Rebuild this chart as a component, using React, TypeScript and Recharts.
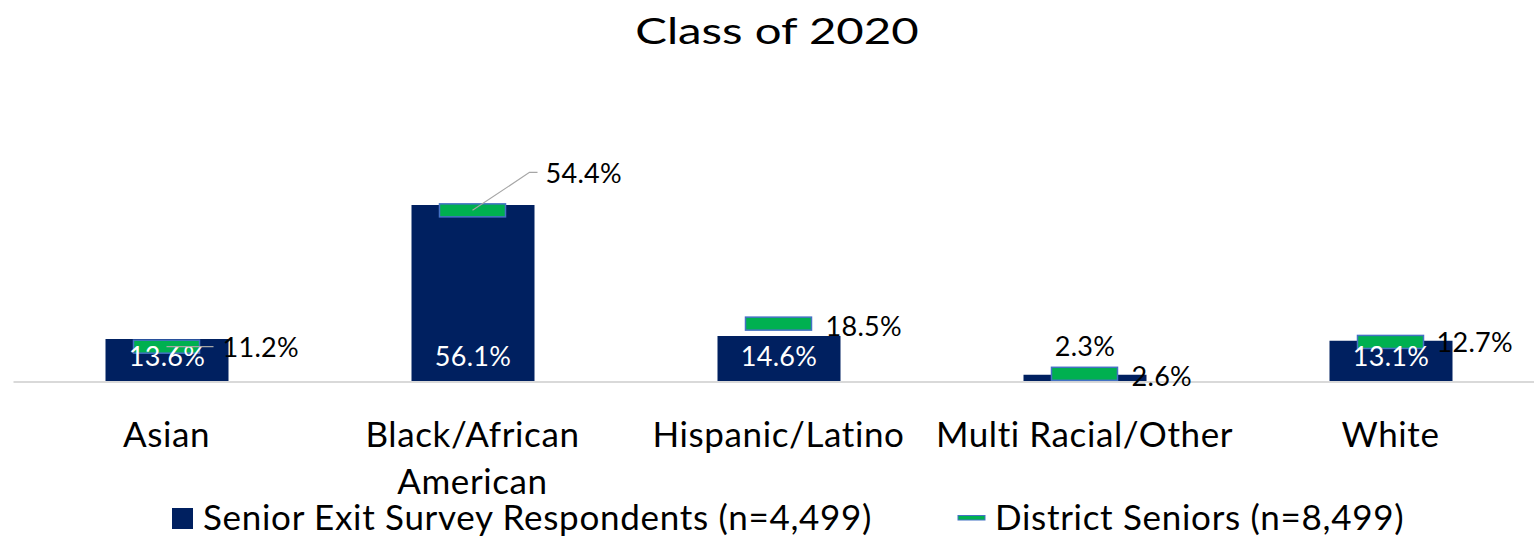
import { Bar, ComposedChart, LabelList, Line, XAxis, YAxis } from "recharts";

const title = "Class of 2020";
const categories = ["Asian", "Black/African American", "Hispanic/Latino", "Multi Racial/Other", "White"];
const respondents = [13.6, 56.1, 14.6, 2.3, 13.1];
const districtSeniors = [11.2, 54.4, 18.5, 2.6, 12.7];
const seriesNames = ["Senior Exit Survey Respondents (n=4,499)", "District Seniors (n=8,499)"];

const data = categories.map((name, i) => ({
  name,
  respondents: respondents[i],
  district: districtSeniors[i],
}));

const FONT = "Lato, 'Open Sans', sans-serif";
const NAVY = "#002060";
const GREEN = "#00B050";
const EDGE = "#4472C4";
const LEADER = "#A6A6A6";

const fmt = (v: number) => `${Number(v).toFixed(1)}%`;

// where the district labels sit relative to their marker (Excel moved a couple by hand)
const markerLabelLayout: Record<string, { dx: number; dy: number; leader?: number[][] }> = {
  Asian: { dx: 56, dy: 10.6, leader: [[0, 0], [47, 0]] },
  "Black/African American": { dx: 73, dy: -27.6, leader: [[0, 0], [57, -38], [65, -38]] },
  White: { dx: 46, dy: 10.4 },
};
const defaultLayout = { dx: 47, dy: 12.3 };

const TICK_SIZE = 35;
const TICK_SPACING = 0.6;
let ctx: CanvasRenderingContext2D | null = null;

function textWidth(s: string) {
  if (!ctx) ctx = document.createElement("canvas").getContext("2d");
  if (!ctx) return s.length * TICK_SIZE * 0.5;
  ctx.font = `${TICK_SIZE}px Lato`;
  return ctx.measureText(s).width + s.length * TICK_SPACING;
}

function wrap(label: string, maxWidth: number) {
  const lines: string[] = [];
  let cur = "";
  for (const w of label.split(" ")) {
    const next = cur ? `${cur} ${w}` : w;
    if (cur && textWidth(next) > maxWidth) {
      lines.push(cur);
      cur = w;
    } else cur = next;
  }
  if (cur) lines.push(cur);
  return lines;
}

function CategoryTick(props: any) {
  const { x, y, payload } = props;
  const lines = wrap(String(payload.value), 300);
  return (
    <text
      x={x}
      y={y + 65}
      textAnchor="middle"
      fill="#000"
      fontSize={TICK_SIZE}
      fontFamily={FONT}
      letterSpacing={TICK_SPACING}
    >
      {lines.map((l, i) => (
        <tspan key={i} x={x} dy={i === 0 ? 0 : 47}>
          {l}
        </tspan>
      ))}
    </text>
  );
}

function BarValueLabel(props: any) {
  const vb = props.viewBox ?? props;
  const { x, y, width, height } = vb;
  const cx = x + width / 2;
  const inside = height > 30;
  return (
    <text
      x={cx}
      y={inside ? y + height - 16.5 : y - 18.4}
      textAnchor="middle"
      fill={inside ? "#fff" : "#000"}
      fontSize={27}
      letterSpacing={0.3}
      fontFamily={FONT}
    >
      {fmt(props.value)}
    </text>
  );
}

function MarkerDot(props: any) {
  const { cx, cy, index } = props;
  if (cx == null || cy == null) return <g key={`m-${index}`} />;
  return (
    <rect
      key={`m-${index}`}
      x={cx - 33}
      y={cy - 6.5}
      width={66}
      height={13}
      fill={GREEN}
      stroke={EDGE}
      strokeWidth={1.5}
    />
  );
}

function MarkerLabel(props: any) {
  const vb = props.viewBox ?? props;
  const cx = vb.x + (vb.width ?? 0) / 2;
  const cy = vb.y + (vb.height ?? 0) / 2;
  const layout = markerLabelLayout[categories[props.index]] ?? defaultLayout;
  return (
    <g>
      {layout.leader && (
        <polyline
          points={layout.leader.map(([dx, dy]) => `${cx + dx},${cy + dy}`).join(" ")}
          fill="none"
          stroke={LEADER}
          strokeWidth={1.2}
        />
      )}
      <text x={cx + layout.dx} y={cy + layout.dy} fill="#000" fontSize={27} letterSpacing={0.3} fontFamily={FONT}>
        {fmt(props.value)}
      </text>
    </g>
  );
}

export default function App() {
  return (
    <div
      style={{
        position: "absolute",
        left: 0,
        top: 0,
        width: 1534,
        height: 537,
        overflow: "hidden",
        background: "#fff",
        fontFamily: FONT,
      }}
    >
      <ComposedChart
        width={1544}
        height={537}
        data={data}
        margin={{ top: 192.7, right: 0.5, bottom: 0, left: 13.5 }}
        barSize={123}
      >
        <XAxis
          dataKey="name"
          interval={0}
          height={155}
          tickLine={false}
          tickSize={0}
          tickMargin={0}
          axisLine={{ stroke: "#D9D9D9", strokeWidth: 2 }}
          tick={<CategoryTick />}
        />
        <YAxis hide domain={[0, 60]} />
        <Bar dataKey="respondents" name={seriesNames[0]} fill={NAVY} isAnimationActive={false}>
          <LabelList dataKey="respondents" content={BarValueLabel} />
        </Bar>
        <Line
          dataKey="district"
          name={seriesNames[1]}
          stroke="none"
          dot={MarkerDot}
          activeDot={false}
          isAnimationActive={false}
        >
          <LabelList dataKey="district" content={MarkerLabel} />
        </Line>
      </ComposedChart>

      <svg width={1534} height={537} style={{ position: "absolute", left: 0, top: 0, pointerEvents: "none" }}>
        <text
          x={0}
          y={44}
          textAnchor="middle"
          transform="translate(777 0) scale(1.28 1)"
          fontSize={37}
          fontFamily={FONT}
          fill="#000"
        >
          {title}
        </text>
        <rect x={172} y={508} width={21} height={21} fill={NAVY} />
        <text x={203} y={530} fontSize={35} letterSpacing={0.7} fontFamily={FONT} fill="#000">
          {seriesNames[0]}
        </text>
        <rect x={958} y={515.5} width={27} height={4.5} fill={GREEN} stroke={EDGE} strokeWidth={1} />
        <text x={995} y={530} fontSize={35} letterSpacing={0.7} fontFamily={FONT} fill="#000">
          {seriesNames[1]}
        </text>
      </svg>
    </div>
  );
}
